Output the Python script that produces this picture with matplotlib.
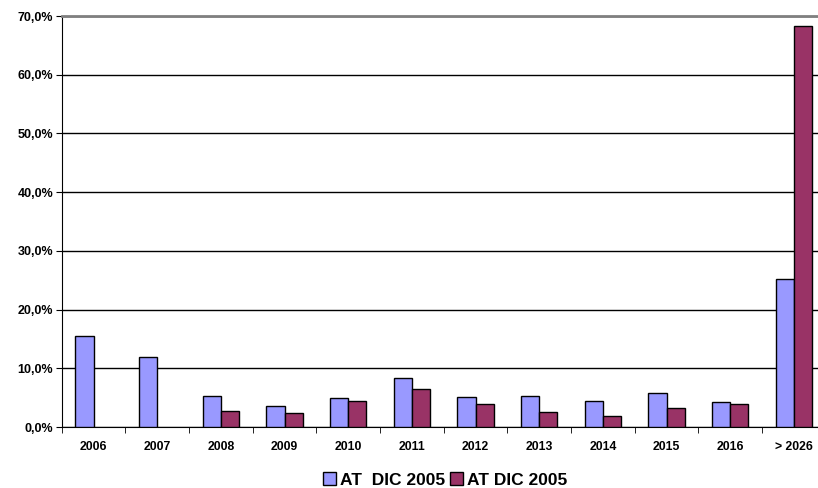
import numpy as np
import matplotlib
matplotlib.use("Agg")
import matplotlib.pyplot as plt
from matplotlib.patches import Patch
from matplotlib.ticker import FuncFormatter

categories = ["2006", "2007", "2008", "2009", "2010", "2011",
              "2012", "2013", "2014", "2015", "2016", "> 2026"]
serie_a = [15.5, 12.0, 5.2, 3.5, 4.9, 8.4, 5.1, 5.3, 4.5, 5.8, 4.2, 25.2]
serie_b = [0.0, 0.0, 2.7, 2.4, 4.4, 6.5, 3.9, 2.6, 1.8, 3.3, 3.9, 68.3]
labels = ["AT  DIC 2005", "AT DIC 2005"]
colors = ["#9999FF", "#993366"]

plt.rcParams['font.family'] = ['Liberation Sans', 'DejaVu Sans']

fig = plt.figure(figsize=(8.18, 4.88), dpi=100)
ax = fig.add_axes([61.7 / 818, 61 / 488, 764 / 818, 411 / 488])

x = np.arange(len(categories))
w = 1 / 3.5
ax.bar(x - w / 2, serie_a, w, color=colors[0], edgecolor="black", lw=1, zorder=3)
b = ax.bar(x + w / 2, serie_b, w, color=colors[1], edgecolor="black", lw=1, zorder=3)
# empty categories draw nothing
for rect, v in zip(b, serie_b):
    if v == 0:
        rect.set_visible(False)

ax.set_xlim(-0.5, len(categories) - 0.5)
ax.set_ylim(0, 70)
ax.set_yticks(np.arange(0, 71, 10))
ax.yaxis.set_major_formatter(FuncFormatter(lambda v, p: f"{v:.1f}%".replace(".", ",")))
ax.yaxis.grid(True, color="black", lw=1, zorder=0)
ax.set_xticks(x)
ax.set_xticklabels(categories)
ax.set_xticks(np.arange(-0.5, len(categories), 1), minor=True)
ax.tick_params(axis="x", which="major", length=0, pad=10, labelsize=8.8)
ax.tick_params(axis="x", which="minor", length=4, direction="out", color="black")
ax.tick_params(axis="y", length=4, direction="out", labelsize=9, pad=2)
for t in ax.get_xticklabels() + ax.get_yticklabels():
    t.set_fontweight("bold")

ax.spines["right"].set_visible(False)
ax.spines["top"].set_color("#808080")
ax.spines["top"].set_linewidth(2)
ax.spines["left"].set_color("black")
ax.spines["bottom"].set_color("black")

handles = [Patch(facecolor=c, edgecolor="black", lw=1) for c in colors]
fig.legend(handles, labels, loc="center", bbox_to_anchor=(445 / 818, 1 - 480 / 488),
           ncol=2, frameon=False, prop={"weight": "bold", "size": 12.5},
           handlelength=0.75, handleheight=0.75, handletextpad=0.2,
           columnspacing=0.3, borderaxespad=0)

fig.savefig("out.png", dpi=100)
